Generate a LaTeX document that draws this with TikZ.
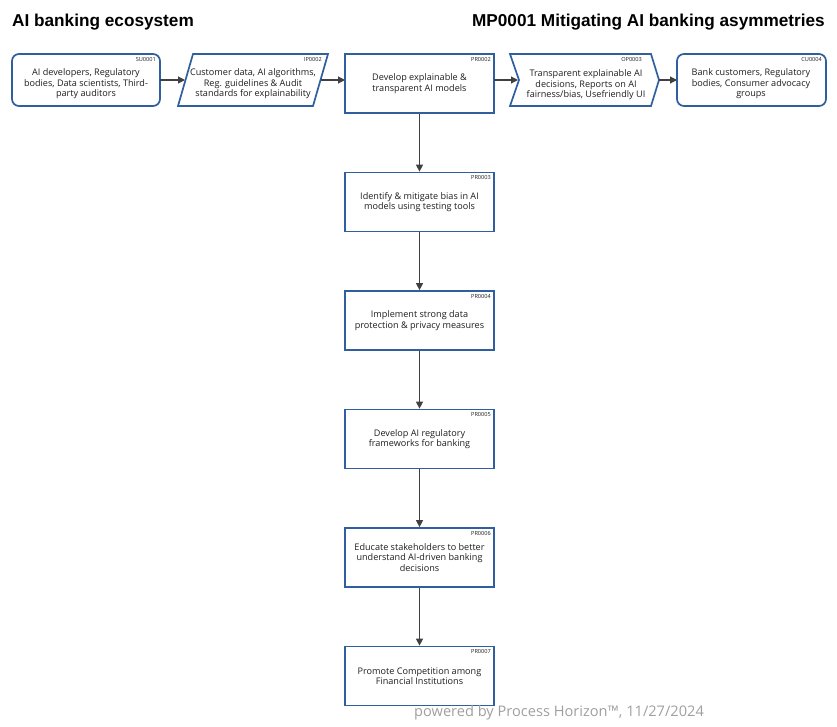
\documentclass[tikz,border=0pt]{standalone}
\usepackage{fontspec}
\setmainfont{Open Sans}
\newfontfamily\titlefont{Liberation Sans}
\usetikzlibrary{arrows.meta}
\definecolor{boxblue}{HTML}{2F5F9E}
\definecolor{arrowgray}{HTML}{404040}
\definecolor{textdark}{HTML}{1E1E1E}
\begin{document}
\begin{tikzpicture}[x=1pt,y=-1pt,
  boxtext/.style={font=\fontsize{9.1}{10.6}\selectfont, align=center, text=textdark, inner sep=0pt},
  idtext/.style={font=\fontsize{5.6}{6}\selectfont, anchor=north east, inner sep=0pt, text=textdark},
  outl/.style={draw=boxblue, line width=1.7pt, fill=white},
  conn/.style={draw=arrowgray, line width=1.1pt, -{Triangle[length=7pt,width=7pt]}}]
\useasboundingbox (0,0) rectangle (837,726);
% titles
\node[anchor=base west, inner sep=0pt, font=\titlefont\bfseries\fontsize{17.2}{19}\selectfont] (t1) at (12,26) {AI banking ecosystem};
\node[anchor=base east, inner sep=0pt, font=\titlefont\bfseries\fontsize{17.2}{19}\selectfont] (t2) at (825,26) {MP0001 Mitigating AI banking asymmetries};
% top row
\draw[outl, rounded corners=7pt] (12,54) rectangle (160,106);
\node[boxtext] (sut) at (86,84) {AI developers, Regulatory\\bodies, Data scientists, Third-\\party auditors};
\node[idtext] (suid) at (156,57) {SU0001};
\draw[outl] (193,54) -- (328,54) -- (313,106) -- (178,106) -- cycle;
\node[boxtext] (ipt) at (253,84) {Customer data, AI algorithms,\\Reg. guidelines \& Audit\\standards for explainability};
\node[idtext] (ipid) at (322,57) {IP0002};
\node[outl, minimum width=149pt, minimum height=59pt, inner sep=0pt] (p2) at (419.5,83.5) {};
\node[boxtext] (p2t) at (419.5,83.5) {Develop explainable \&\\transparent AI models};
\node[idtext] (p2id) at (491,57) {PR0002};
\draw[outl] (510,54) -- (651,54) -- (659,80) -- (651,106) -- (510,106) -- (519,80) -- cycle;
\node[boxtext] (opt) at (586,85) {Transparent explainable AI\\decisions, Reports on AI\\fairness/bias, Usefriendly UI};
\node[idtext] (opid) at (642,57) {OP0003};
\draw[outl, rounded corners=7pt] (677,54) rectangle (826,106);
\node[boxtext] (cut) at (751,84) {Bank customers, Regulatory\\bodies, Consumer advocacy\\groups};
\node[idtext] (cuid) at (822,57) {CU0004};
% vertical column
\foreach \n/\y/\t in {3/202/{Identify \& mitigate bias in AI\\models using testing tools},
                      4/320.5/{Implement strong data\\protection \& privacy measures},
                      5/439/{Develop AI regulatory\\frameworks for banking},
                      6/557.5/{Educate stakeholders to better\\understand AI-driven banking\\decisions},
                      7/676/{Promote Competition among\\Financial Institutions}}{
  \node[outl, minimum width=149pt, minimum height=59pt, inner sep=0pt] (p\n) at (419.5,\y) {};
  \node[boxtext] (p\n t) at (419.5,\y) {\t};
  \node[idtext] (p\n id) at (491,\y-26.5) {PR000\n};
}
% connectors
\coordinate (a1s) at (160,80); \coordinate (a1e) at (185,80);
\coordinate (a2s) at (321,80); \coordinate (a2e) at (345,80);
\coordinate (a3s) at (494,80); \coordinate (a3e) at (518,80);
\coordinate (a4s) at (659,80); \coordinate (a4e) at (677,80);
\draw[conn] (a1s) -- (a1e);
\draw[conn] (a2s) -- (a2e);
\draw[conn] (a3s) -- (a3e);
\draw[conn] (a4s) -- (a4e);
\draw[conn] (p2) -- (p3);
\draw[conn] (p3) -- (p4);
\draw[conn] (p4) -- (p5);
\draw[conn] (p5) -- (p6);
\draw[conn] (p6) -- (p7);
% footer
\node[anchor=base west, inner sep=0pt, text=gray!75, font=\fontsize{14.6}{16}\selectfont] (foot) at (414,716) {powered by Process Horizon™, 11/27/2024};
\end{tikzpicture}
\end{document}
